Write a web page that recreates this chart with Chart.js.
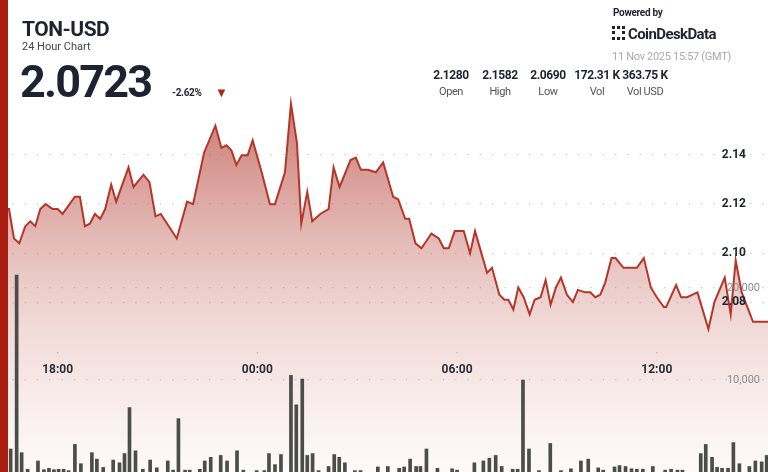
<!DOCTYPE html>
<html>
<head>
<meta charset="utf-8">
<script src="https://cdn.jsdelivr.net/npm/chart.js@4"></script>
<style>
  body { margin:0; background:#fff; font-family:Roboto, sans-serif; }
  #wrap { position:relative; width:768px; height:472px; overflow:hidden; }
  #bar { position:absolute; left:0; top:0; width:8px; height:472px; background:#a91d10; }
  canvas { position:absolute; left:0; top:0; }
  .t { position:absolute; white-space:nowrap; color:#1d2330; }
  .st { position:absolute; top:68px; width:60px; text-align:center; letter-spacing:-0.4px; }
  .st b { display:block; font-size:12px; color:#1d2330; }
  .st span { display:block; font-size:11px; color:#555; margin-top:3px; }
</style>
</head>
<body>
<div id="wrap">
  <canvas id="myChart" width="768" height="472"></canvas>
  <div id="bar"></div>
  <div class="t" style="left:22px;top:17px;font-size:21px;font-weight:bold;letter-spacing:-0.5px;">TON-USD</div>
  <div class="t" style="left:22px;top:40px;font-size:11px;color:#444;">24 Hour Chart</div>
  <div class="t" style="left:20px;top:55px;font-size:45px;font-weight:bold;letter-spacing:-1.8px;">2.0723</div>
  <div class="t" style="left:172px;top:87px;font-size:10px;font-weight:bold;letter-spacing:-0.3px;">-2.62%</div>
  <div class="t" style="left:215px;top:85px;font-size:13px;color:#b0251a;">&#9660;</div>
  <div class="t" style="left:613px;top:7px;font-size:10px;font-weight:bold;letter-spacing:-0.3px;">Powered by</div>
  <div class="t" style="left:612px;top:25px;font-size:15px;font-weight:bold;letter-spacing:-0.6px;"><span style="display:inline-block;width:13px;height:14px;border:3px dotted #1d2330;box-sizing:border-box;vertical-align:-1px;margin-right:3px;"></span>CoinDeskData</div>
  <div class="t" style="left:612px;top:50px;font-size:11px;color:#aaa;letter-spacing:-0.3px;">11 Nov 2025 15:57 (GMT)</div>
  <div class="st" style="left:421px"><b>2.1280</b><span>Open</span></div>
  <div class="st" style="left:470px"><b>2.1582</b><span>High</span></div>
  <div class="st" style="left:518px"><b>2.0690</b><span>Low</span></div>
  <div class="st" style="left:567px"><b>172.31 K</b><span>Vol</span></div>
  <div class="st" style="left:615px"><b>363.75 K</b><span>Vol USD</span></div>
</div>
<script>
// hours relative to 18:00
const priceTimes = [-1.73,-1.61,-1.46,-1.31,-1.15,-0.97,-0.82,-0.67,-0.52,-0.36,-0.15,0,0.15,0.52,0.67,0.82,0.97,1.12,1.28,1.43,1.61,1.76,2.13,2.28,2.58,2.76,2.94,3.10,3.58,3.89,4.07,4.40,4.74,4.92,5.07,5.22,5.37,5.53,5.71,5.86,6.13,6.38,6.53,6.83,7.01,7.19,7.32,7.50,7.65,7.89,8.14,8.29,8.47,8.80,8.96,9.11,9.32,9.56,9.78,10.08,10.23,10.44,10.56,10.75,10.93,11.23,11.45,11.60,11.75,11.93,12.20,12.39,12.54,12.90,13.05,13.27,13.42,13.54,13.69,13.84,14.00,14.18,14.33,14.51,14.66,14.81,14.97,15.12,15.30,15.48,15.63,15.85,16.00,16.15,16.30,16.45,16.64,16.76,17.00,17.21,17.40,17.61,17.82,18.00,18.21,18.28,18.58,18.73,18.91,19.06,19.22,19.55,19.73,20.04,20.22,20.37,20.55,20.89,21.10,21.34];
const prices = [2.121,2.118,2.118,2.106,2.104,2.111,2.113,2.111,2.118,2.120,2.118,2.118,2.116,2.123,2.123,2.111,2.112,2.116,2.114,2.118,2.128,2.121,2.135,2.127,2.132,2.129,2.115,2.116,2.106,2.121,2.120,2.141,2.152,2.143,2.144,2.142,2.136,2.140,2.140,2.146,2.133,2.120,2.120,2.133,2.161,2.145,2.112,2.125,2.113,2.116,2.118,2.135,2.127,2.138,2.139,2.134,2.134,2.133,2.137,2.123,2.122,2.114,2.114,2.104,2.102,2.108,2.106,2.102,2.102,2.109,2.109,2.100,2.109,2.092,2.094,2.083,2.081,2.081,2.077,2.086,2.082,2.075,2.081,2.082,2.089,2.079,2.086,2.090,2.083,2.080,2.085,2.084,2.084,2.082,2.083,2.088,2.098,2.098,2.094,2.094,2.094,2.098,2.086,2.082,2.078,2.078,2.087,2.082,2.082,2.083,2.084,2.069,2.080,2.090,2.075,2.097,2.084,2.072,2.072,2.072];
const volTimes = [-1.60,-1.41,-1.23,-1.08,-0.90,-0.59,-0.41,-0.26,-0.11,0.03,0.18,0.33,0.52,0.70,1.03,1.18,1.37,1.67,1.86,2.01,2.16,2.34,2.56,2.78,2.98,3.31,3.47,3.63,3.83,3.97,4.27,4.42,4.60,4.90,5.09,5.39,5.58,5.98,6.21,6.35,6.53,6.71,7.01,7.17,7.35,7.50,7.66,7.84,8.14,8.31,8.46,8.63,8.93,9.10,9.62,9.92,10.26,10.41,10.59,10.77,10.90,11.08,11.41,11.85,12.00,12.52,12.79,12.97,13.16,13.34,13.67,13.82,13.98,14.16,14.46,14.80,15.12,15.42,15.72,15.94,16.24,16.39,16.73,16.88,17.06,17.24,17.40,17.58,17.88,18.25,18.43,18.62,18.77,19.32,19.47,19.66,19.81,19.96,20.14,20.30,20.48,20.78,20.96,21.15,21.30];
const volumes = [300,2500,21400,2100,300,1200,250,400,250,300,300,150,3000,900,2100,1400,500,1300,1000,2000,7000,2300,300,1300,450,1200,200,5800,200,200,300,1200,1600,1800,1200,2300,200,150,150,2000,800,1900,10500,7300,10100,1800,2000,150,600,1900,1600,1000,150,150,550,600,400,550,1400,600,600,2500,400,350,200,1000,1200,1500,1800,600,300,300,10000,2500,150,3100,150,350,1200,1400,450,200,550,700,600,350,300,300,600,200,300,200,200,2000,3000,1600,500,400,400,3200,900,600,1200,1100,1800];
const xTicks = [0, 6, 12, 18];
const xTickLabels = ['18:00', '00:00', '06:00', '12:00'];
const priceTicks = [2.08, 2.10, 2.12, 2.14];
const volTicks = [10000, 20000];

// axis labels drawn inside the plot through the scales
const axisLabels = {
  id: 'axisLabels',
  afterDatasetsDraw(chart) {
    const c = chart.ctx, s = chart.scales;
    c.save();
    c.textBaseline = 'middle';
    c.textAlign = 'center';
    c.font = "bold 12px Roboto";
    xTicks.forEach((v, i) => {
      const px = s.x.getPixelForValue(v);
      c.fillStyle = '#2a2f38';
      c.fillText(xTickLabels[i], px, 370);
      c.fillStyle = '#bbb';
      c.fillRect(px - 0.7, 352, 1.4, 1.4);
    });
    c.textAlign = 'right';
    c.font = "11px Roboto";
    c.fillStyle = '#8a8f8c';
    volTicks.forEach(v => c.fillText(v.toLocaleString('en-US'), 760, s.yv.getPixelForValue(v)));
    c.font = "bold 12px Roboto";
    c.fillStyle = '#1d2330';
    priceTicks.forEach(v => c.fillText(v.toFixed(2), 746, s.yp.getPixelForValue(v)));
    c.restore();
  }
};

const ctx = document.getElementById('myChart').getContext('2d');
const dotted = { color: '#c9c9c9', lineWidth: 1.3, drawTicks: false };
new Chart(ctx, {
  data: {
    datasets: [{
      type: 'bar', yAxisID: 'yv', order: 1,
      data: volTimes.map((t, i) => ({ x: t, y: volumes[i] })),
      backgroundColor: '#4b4d48', barThickness: 3
    }, {
      type: 'line', yAxisID: 'yp', order: 2,
      data: priceTimes.map((t, i) => ({ x: t, y: prices[i] })),
      borderColor: '#b43629', borderWidth: 2, pointRadius: 0, tension: 0, fill: 'start',
      backgroundColor: function(c) {
        const a = c.chart.chartArea;
        if (!a) return 'rgba(180,60,50,0.3)';
        const g = c.chart.ctx.createLinearGradient(0, 100, 0, a.bottom);
        g.addColorStop(0, 'rgba(175,45,35,0.65)');
        g.addColorStop(0.5, 'rgba(190,90,80,0.3)');
        g.addColorStop(1, 'rgba(220,150,140,0.05)');
        return g;
      }
    }]
  },
  plugins: [axisLabels],
  options: {
    responsive: false, animation: false,
    layout: { padding: 0, autoPadding: false },
    plugins: { legend: { display: false }, tooltip: { enabled: false } },
    scales: {
      x: {
        type: 'linear', min: -1.73, max: 21.34, display: false, offset: false
      },
      yp: {
        position: 'right', min: 2.0107, max: 2.2033,
        afterBuildTicks: s => { s.ticks = priceTicks.map(v => ({ value: v })); },
        afterFit: s => { s.width = 0; s.paddingTop = 0; s.paddingBottom = 0; },
        border: { display: false, dash: [1.3, 11] }, grid: dotted,
        ticks: { display: false }
      },
      yv: {
        position: 'right', min: 0, max: 51300,
        afterBuildTicks: s => { s.ticks = volTicks.map(v => ({ value: v })); },
        afterFit: s => { s.width = 0; s.paddingTop = 0; s.paddingBottom = 0; },
        border: { display: false, dash: [1.3, 11] }, grid: dotted,
        ticks: { display: false }
      }
    }
  }
});
</script>
</body>
</html>
